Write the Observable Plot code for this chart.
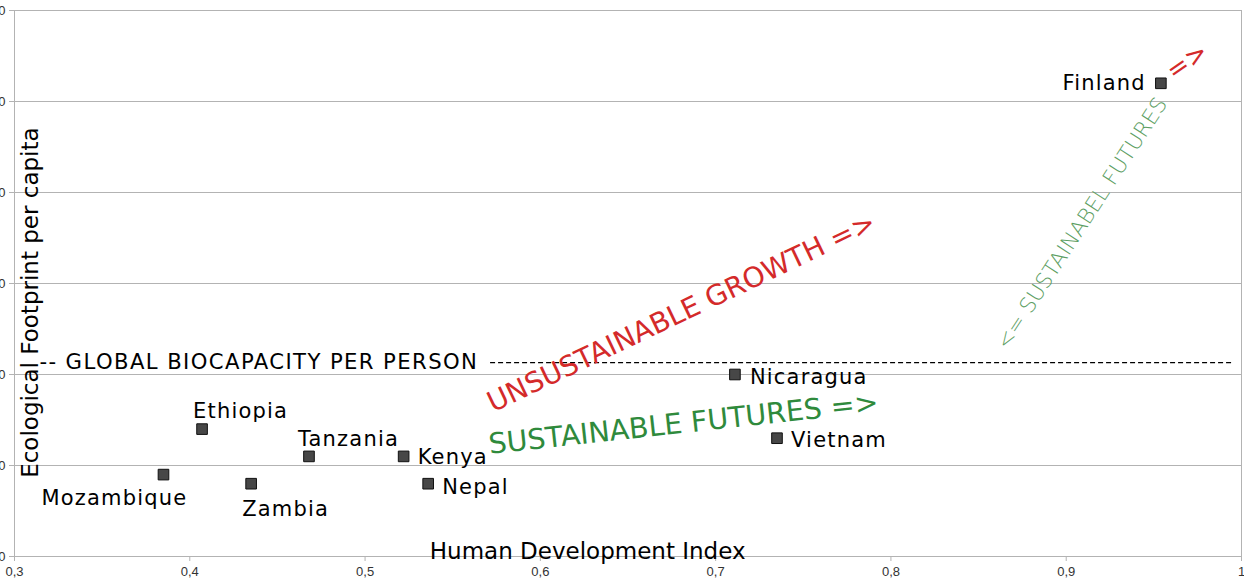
<!DOCTYPE html>
<html>
<head>
<meta charset="utf-8">
<script src="https://cdn.jsdelivr.net/npm/d3@7"></script>
<script src="https://cdn.jsdelivr.net/npm/@observablehq/plot@0.6"></script>
<style>
  html, body { margin: 0; padding: 0; background: #fff; }
  #chart svg { display: block; }
  #chart g[font-size="21"] text { letter-spacing: 1.2px; }
  #chart g[font-size="21.2"] text { letter-spacing: 1.4px; }
</style>
</head>
<body>
<div id="chart"></div>
<script>
// Data
const countries = ["Finland", "Nicaragua", "Vietnam", "Ethiopia", "Mozambique", "Zambia", "Tanzania", "Kenya", "Nepal"];
const hdi       = [0.954, 0.711, 0.735, 0.407, 0.385, 0.435, 0.468, 0.522, 0.536];
const footprint = [5.20, 2.00, 1.30, 1.40, 0.90, 0.80, 1.10, 1.10, 0.80];
const biocapacity = 2.13;
const xTicks = [0.3, 0.4, 0.5, 0.6, 0.7, 0.8, 0.9, 1];
const yTicks = [0, 1, 2, 3, 4, 5, 6];

// annotation texts (data coords)
const notes = [
  {text: "UNSUSTAINABLE GROWTH =>", x: 0.6805, y: 2.68, rotate: -25.5, color: "#d42a2a", size: 28},
  {text: "SUSTAINABLE FUTURES =>", x: 0.6817, y: 1.46, rotate: -6.2, color: "#2f8a3c", size: 28.5},
  {text: "<= SUSTAINABEL FUTURES", x: 0.909, y: 3.66, rotate: -57, color: "#5c9e62", size: 21.5},
  {text: "=>", x: 0.969, y: 5.44, rotate: -35, color: "#d42a2a", size: 26}
];

// label placement (pixel offsets relative to point)
const place = {
  Finland:    {dx: -15, dy: 0,   anchor: "end"},
  Nicaragua:  {dx: 15,  dy: 3,   anchor: "start"},
  Vietnam:    {dx: 14,  dy: 2,   anchor: "start"},
  Ethiopia:   {dx: -9,  dy: -18, anchor: "start"},
  Mozambique: {dx: 24,  dy: 24,  anchor: "end"},
  Zambia:     {dx: -9,  dy: 26,  anchor: "start"},
  Tanzania:   {dx: -11, dy: -17, anchor: "start"},
  Kenya:      {dx: 14,  dy: 1,   anchor: "start"},
  Nepal:      {dx: 14,  dy: 4,   anchor: "start"}
};

const idx = countries.map((_, i) => i);
const font = "DejaVu Sans, sans-serif";

const chart = Plot.plot({
  width: 1244,
  height: 585,
  marginLeft: 14,
  marginRight: 3,
  marginTop: 10,
  marginBottom: 29,
  style: {fontFamily: font, background: "#fff"},
  x: {domain: [0.3, 1], label: null},
  y: {domain: [0, 6], label: null},
  marks: [
    Plot.gridY(yTicks, {stroke: "#b3b3b3", strokeOpacity: 1}),
    Plot.frame({stroke: "#b3b3b3"}),
    Plot.axisX(xTicks, {tickSize: 5, tickPadding: 5, stroke: "#b3b3b3", fill: "#333", fontSize: 13,
      fontFamily: "Liberation Sans, sans-serif", tickFormat: d => String(d).replace(".", ","), label: null}),
    Plot.axisY(yTicks, {tickSize: 5, tickPadding: 4, stroke: "#b3b3b3", fill: "#333", fontSize: 13,
      fontFamily: "Liberation Sans, sans-serif", label: null}),
    // biocapacity line
    Plot.ruleY([biocapacity], {x1: 0.5716, x2: 0.995, stroke: "#000", strokeWidth: 1.4, strokeDasharray: "5,3"}),
    Plot.text(["-- GLOBAL BIOCAPACITY PER PERSON"], {x: 0.3142, y: biocapacity, text: d => d, textAnchor: "start",
      fontSize: 21.2, fill: "#000", fontFamily: font}),
    // annotations
    ...notes.map(n => Plot.text([n], {x: "x", y: "y", text: "text", rotate: n.rotate, fill: n.color,
      fontSize: n.size, fontFamily: font, fontWeight: n.size < 22 ? 300 : 400})),
    // axis titles
    Plot.text(["Human Development Index"], {x: 0.627, y: 0.05, text: d => d, fontSize: 23, fill: "#000"}),
    Plot.text(["Ecological Footprint per capita"], {x: 0.309, y: 2.79, text: d => d, rotate: -90, fontSize: 23, fill: "#000"}),
    // points
    Plot.dot(idx, {x: i => hdi[i], y: i => footprint[i], symbol: "square", r: 6, fill: "#474747", stroke: "#111", strokeWidth: 1}),
    // labels
    ...countries.map((c, i) => Plot.text([i], {x: j => hdi[j], y: j => footprint[j], text: j => countries[j],
      dx: place[c].dx, dy: place[c].dy, textAnchor: place[c].anchor, fontSize: 21, fill: "#000"}))
  ]
});
document.getElementById("chart").appendChild(chart);
</script>
</body>
</html>
